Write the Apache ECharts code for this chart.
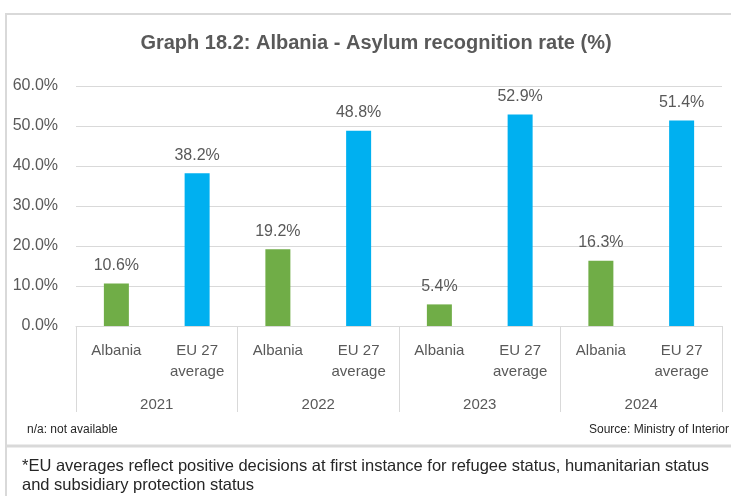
<!DOCTYPE html>
<html>
<head>
<meta charset="utf-8">
<script src="https://cdn.jsdelivr.net/npm/echarts@6/dist/echarts.min.js"></script>
<style>
  html, body { margin: 0; padding: 0; background: #fff; }
  #chart { width: 731px; height: 496px; }
</style>
</head>
<body>
<div id="chart"></div>
<script>
const years = ["2021", "2022", "2023", "2024"];
const groups = ["Albania", "EU 27\naverage"];
const albania = [10.6, 19.2, 5.4, 16.3];
const eu27 = [38.2, 48.8, 52.9, 51.4];
const yTicks = [0, 10, 20, 30, 40, 50, 60];

const GREEN = "#70AD47";
const BLUE = "#00B0F0";
const GRID = "#d9d9d9";
const TEXT = "#595959";

// flat list of categories: Albania, EU, Albania, EU ...
const categories = [];
const values = [];
years.forEach((y, i) => {
  categories.push(groups[0], groups[1]);
  values.push(
    { value: albania[i], itemStyle: { color: GREEN } },
    { value: eu27[i], itemStyle: { color: BLUE } }
  );
});

const chart = echarts.init(document.getElementById("chart"));

chart.setOption({
  backgroundColor: "#fff",
  animation: false,
  title: {
    text: "Graph 18.2: Albania - Asylum recognition rate (%)",
    left: 371,
    textAlign: "center",
    top: 28,
    textStyle: {
      fontFamily: "Liberation Sans",
      fontSize: 20,
      fontWeight: "bold",
      color: TEXT,
    },
  },
  grid: { left: 76, right: 9, top: 86, bottom: 170 },
  xAxis: [
    {
      type: "category",
      data: categories,
      axisLine: { lineStyle: { color: GRID, width: 1 } },
      axisTick: { show: false },
      axisLabel: {
        margin: 14,
        interval: 0,
        fontFamily: "Liberation Sans",
        fontSize: 15,
        lineHeight: 21,
        color: TEXT,
      },
    },
    {
      type: "category",
      data: years,
      position: "bottom",
      axisLine: { show: false },
      axisTick: {
        show: true,
        length: 86,
        lineStyle: { color: GRID, width: 1 },
      },
      axisLabel: {
        margin: 71,
        fontFamily: "Liberation Sans",
        fontSize: 15,
        color: TEXT,
      },
    },
  ],
  yAxis: {
    type: "value",
    min: yTicks[0],
    max: yTicks[yTicks.length - 1],
    interval: 10,
    axisLine: { show: false },
    axisTick: { show: false },
    splitLine: { lineStyle: { color: GRID, width: 1 } },
    axisLabel: {
      margin: 18,
      fontFamily: "Liberation Sans",
      fontSize: 16,
      color: TEXT,
      formatter: (v) => v.toFixed(1) + "%",
    },
  },
  series: [
    {
      type: "bar",
      xAxisIndex: 0,
      data: values,
      barWidth: 25,
      label: {
        show: true,
        position: "top",
        distance: 10,
        fontFamily: "Liberation Sans",
        fontSize: 16,
        color: TEXT,
        formatter: (p) => p.value.toFixed(1) + "%",
      },
    },
  ],
  graphic: [
    {
      type: "line",
      shape: { x1: 5, y1: 14, x2: 731, y2: 14 },
      style: { stroke: GRID, lineWidth: 2 },
      silent: true,
    },
    {
      type: "line",
      shape: { x1: 6, y1: 14, x2: 6, y2: 496 },
      style: { stroke: GRID, lineWidth: 2 },
      silent: true,
    },
    {
      type: "line",
      shape: { x1: 5, y1: 446, x2: 731, y2: 446 },
      style: { stroke: GRID, lineWidth: 3 },
      silent: true,
    },
    {
      type: "text",
      left: 27,
      top: 424,
      style: {
        text: "n/a: not available",
        font: "12px Liberation Sans",
        fill: "#262626",
      },
    },
    {
      type: "text",
      right: 2,
      top: 424,
      style: {
        text: "Source: Ministry of Interior",
        font: "12px Liberation Sans",
        fill: "#262626",
      },
    },
    {
      type: "text",
      left: 22,
      top: 457,
      style: {
        text: "*EU averages reflect positive decisions at first instance for refugee status, humanitarian status\nand subsidiary protection status",
        font: "16.5px Liberation Sans",
        lineHeight: 19,
        fill: "#262626",
      },
    },
  ],
});
</script>
</body>
</html>
